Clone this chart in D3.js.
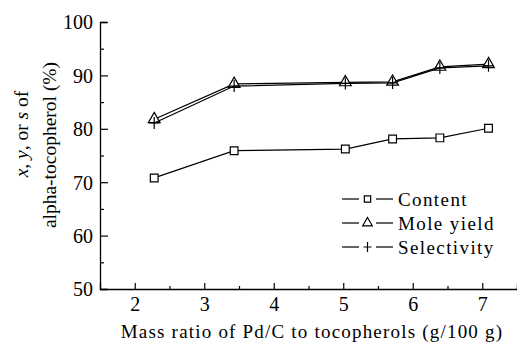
<!DOCTYPE html>
<html>
<meta charset="utf-8">
<style type="text/css">
  body { margin: 0; background: #fff; }
  text { font-family: "Liberation Serif", "Times New Roman", serif; fill: #000; }
</style>
<body>
<div id="chart"></div>
<script src="https://d3js.org/d3.v7.min.js"></script>
<script>
  // values
  const massRatio   = [2.28, 3.43, 5.03, 5.71, 6.39, 7.09];
  const content     = [70.8, 75.9, 76.2, 78.1, 78.3, 80.1];
  const moleYield   = [81.8, 88.4, 88.7, 88.8, 91.6, 92.1];
  const selectivity = [81.1, 88.0, 88.5, 88.6, 91.4, 91.8];
  const seriesNames = ["Content", "Mole yield", "Selectivity"];
  const xTicks = [2, 3, 4, 5, 6, 7];
  const yTicks = [50, 60, 70, 80, 90, 100];

  const width = 517, height = 342;
  const svg = d3.select("#chart").append("svg")
    .attr("width", width)
    .attr("height", height);

  const x = d3.scaleLinear().domain([1.5, 7.5]).range([100, 517]);
  const y = d3.scaleLinear().domain([50, 100]).range([289, 22]);

  // axes (ticks point inward)
  const xAxis = svg.append("g").attr("transform", "translate(0,289)")
    .call(d3.axisBottom(x).tickValues(d3.range(2, 7.51, 0.5)).tickSize(-6).tickFormat(""));
  xAxis.selectAll(".tick line").attr("y2", d => Number.isInteger(d) ? -6 : -3);
  xAxis.selectAll(".tick").filter(d => xTicks.includes(d)).append("text")
    .attr("y", 22).attr("text-anchor", "middle")
    .style("font-size", "20px")
    .text(d => d);

  const yAxis = svg.append("g").attr("transform", "translate(100,0)")
    .call(d3.axisLeft(y).tickValues(d3.range(50, 100.1, 5)).tickSize(-7).tickFormat(""));
  yAxis.selectAll(".tick line").attr("x2", d => d % 10 === 0 ? 8 : 4);
  yAxis.selectAll(".tick").filter(d => yTicks.includes(d)).append("text")
    .attr("x", -7).attr("dy", "0.34em").attr("text-anchor", "end")
    .style("font-size", "20px")
    .text(d => d);

  svg.selectAll(".domain").attr("stroke", "#000").attr("stroke-width", 1.3);
  svg.selectAll(".tick line").attr("stroke", "#000").attr("stroke-width", 1.2);

  // axis titles
  svg.append("text")
    .attr("x", 312).attr("y", 338).attr("text-anchor", "middle")
    .style("font-size", "19px").style("letter-spacing", "1.2px")
    .text("Mass ratio of Pd/C to tocopherols (g/100 g)");

  svg.append("text")
    .attr("transform", "translate(28,134) rotate(-90)")
    .attr("text-anchor", "middle")
    .style("font-size", "19.5px")
    .html('<tspan font-style="italic">x</tspan>, <tspan font-style="italic">y</tspan>, or <tspan font-style="italic">s</tspan> of');
  svg.append("text")
    .attr("transform", "translate(56,145) rotate(-90)")
    .attr("text-anchor", "middle")
    .style("font-size", "19.5px")
    .text("alpha-tocopherol (%)");

  // series
  const line = d3.line().x(d => x(d[0])).y(d => y(d[1]));
  const seriesValues = [content, moleYield, selectivity];

  const square = d3.symbol().type(d3.symbolSquare).size(60);
  const triangle = d3.symbol().type(d3.symbolTriangle).size(60);
  const cross = "M-5,0H5M0,-6V6";
  const markers = [square(), triangle(), cross];

  seriesValues.forEach((vals, i) => {
    const pts = massRatio.map((m, j) => [m, vals[j]]);
    svg.append("path").datum(pts)
      .attr("d", line)
      .attr("fill", "none").attr("stroke", "#000").attr("stroke-width", 1.2);
    svg.selectAll(".m" + i).data(pts).enter().append("path")
      .attr("transform", d => `translate(${x(d[0])},${y(d[1])})`)
      .attr("d", markers[i])
      .attr("fill", i === 2 ? "none" : "#fff")
      .attr("stroke", "#000").attr("stroke-width", 1.2);
  });

  // legend
  const legend = svg.append("g").attr("transform", "translate(342,199)");
  seriesNames.forEach((name, i) => {
    const g = legend.append("g").attr("transform", `translate(0,${i * 24})`);
    g.append("line").attr("x1", 0).attr("x2", 17).attr("stroke", "#000").attr("stroke-width", 1.2);
    g.append("line").attr("x1", 34).attr("x2", 51).attr("stroke", "#000").attr("stroke-width", 1.2);
    g.append("path").attr("transform", "translate(25.5,0)")
      .attr("d", i === 0 ? d3.symbol().type(d3.symbolSquare).size(40)()
                 : i === 1 ? d3.symbol().type(d3.symbolTriangle).size(40)()
                 : "M-4,0H4M0,-5V5")
      .attr("fill", "#fff").attr("stroke", "#000").attr("stroke-width", 1.2);
    g.append("text").attr("x", 56).attr("dy", "0.35em")
      .style("font-size", "19px").style("letter-spacing", "1.4px")
      .text(name);
  });
</script>
</body>
</html>
